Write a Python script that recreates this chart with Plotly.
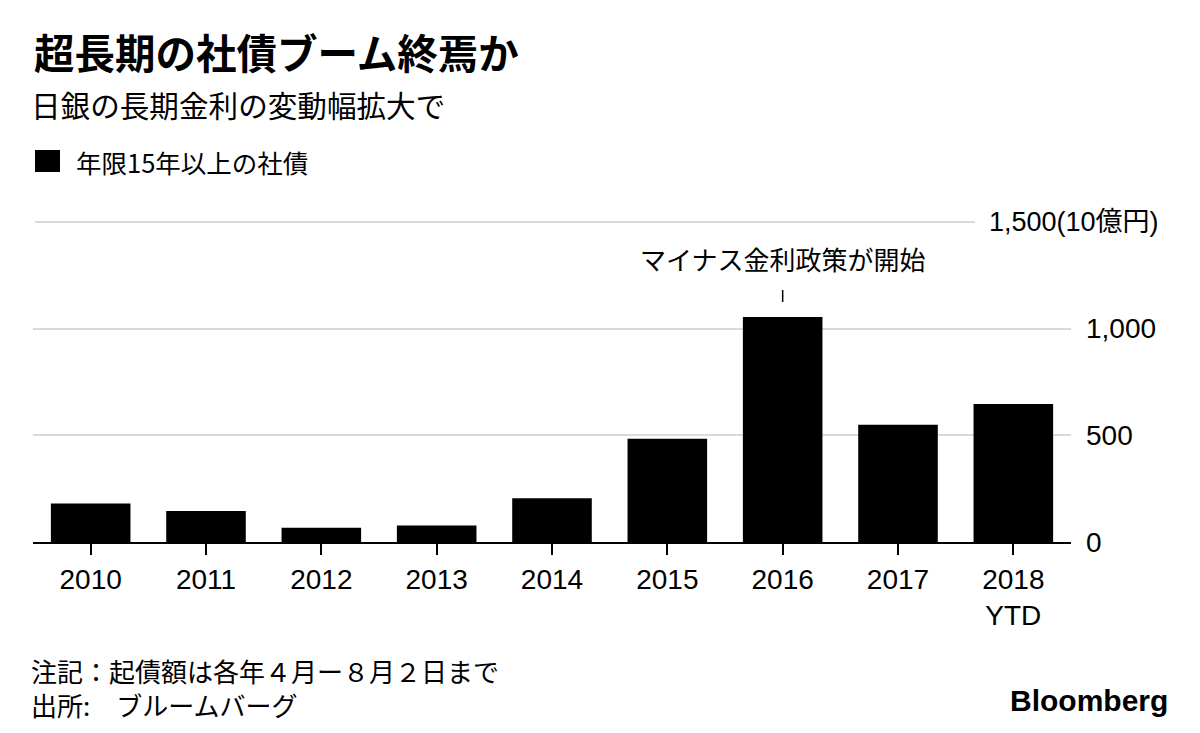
import plotly.graph_objects as go

years = ["2010", "2011", "2012", "2013", "2014", "2015", "2016", "2017", "2018"]
tick_labels = ["2010", "2011", "2012", "2013", "2014", "2015", "2016", "2017", "2018<br>YTD"]
values = [180, 145, 67, 77, 205, 484, 1055, 550, 647]
y_ticks = [0, 500, 1000]
event_year = "2016"

FONT = "Liberation Sans, Arial, Noto Sans CJK JP, sans-serif"
JP = "Noto Sans CJK JP, Liberation Sans, sans-serif"

# page body has an 8px margin: work in reference-pixel coords, shifted
OFF = 8
W, H = 1200 - OFF, 733 - OFF
L, R, T, B = 33 - OFF, 1071 - OFF, 222 - OFF, 542 - OFF
PW, PH = R - L, B - T


def px(x):
    return (x - OFF - L) / PW


def py(y):
    return (B - (y - OFF)) / PH


ev_idx = years.index(event_year)

fig = go.Figure()
fig.add_trace(go.Bar(
    x=years, y=values, marker=dict(color="#000000", line=dict(width=0)),
    name="年限15年以上の社債", showlegend=False,
))

fig.update_layout(
    width=W, height=H, autosize=False,
    paper_bgcolor="white", plot_bgcolor="white",
    margin=dict(l=L, r=W - R, t=T, b=H - B, pad=0),
    bargap=0.31,
    font=dict(family=FONT, color="#000000", size=28),
    title=dict(
        text="<b>超長期の社債ブーム終焉か</b>",
        font=dict(family=JP, size=40.5, color="#000000"),
        x=(35 - OFF - 1) / W, xanchor="left", xref="container",
        y=1 - (55 - OFF) / H, yanchor="middle", yref="container",
    ),
    xaxis=dict(
        type="category", automargin=False, range=[-0.5, len(years) - 0.5],
        tickmode="array", tickvals=years, ticktext=tick_labels,
        showline=True, linecolor="#000000", linewidth=2,
        ticks="outside", ticklen=11, tickwidth=2, tickcolor="#000000",
        showgrid=False, tickfont=dict(size=28, family=FONT),
    ),
    yaxis=dict(
        automargin=False,
        range=[0, 1500], side="right", tickmode="array", tickvals=y_ticks,
        tickformat=",d", showgrid=True, gridcolor="#dadada", gridwidth=2,
        zeroline=False, showline=False, ticks="", ticklabelstandoff=14,
        tickfont=dict(size=28, family=FONT),
    ),
    separators=".,",
)

# 1,500 gridline (shorter, with unit label)
fig.add_shape(type="line", xref="paper", yref="paper", x0=px(35), x1=px(975),
              y0=1, y1=1, line=dict(color="#dadada", width=2))
fig.add_annotation(text="1,500(10億円)", xref="paper", yref="paper",
                   x=px(987), y=1.0, xanchor="left", yanchor="middle",
                   showarrow=False, font=dict(size=27, family=FONT))

# subtitle
fig.add_annotation(text="日銀の長期金利の変動幅拡大で", xref="paper", yref="paper",
                   x=px(29), y=py(104), xanchor="left", yanchor="middle",
                   showarrow=False, font=dict(size=29.6, family=JP))

# legend
fig.add_shape(type="rect", xref="paper", yref="paper", x0=px(35), x1=px(60),
              y0=py(172), y1=py(150), fillcolor="#000000", line=dict(width=0))
fig.add_annotation(text="年限15年以上の社債", xref="paper", yref="paper",
                   x=px(74), y=py(161), xanchor="left", yanchor="middle",
                   showarrow=False, font=dict(size=25.5, family=JP))

# event annotation
fig.add_annotation(text="マイナス金利政策が開始", xref="x", yref="paper",
                   x=ev_idx, y=py(258), xanchor="center", yanchor="middle",
                   showarrow=False, font=dict(size=26, family=JP))
fig.add_shape(type="line", xref="x", yref="paper", x0=ev_idx, x1=ev_idx,
              y0=py(302), y1=py(290), line=dict(color="#000000", width=1.5))

# footer (note + source in one text block)
fig.add_annotation(text="注記：起債額は各年４月ー８月２日まで<br>出所:　ブルームバーグ",
                   xref="paper", yref="paper", align="left",
                   x=px(29), y=py(687), xanchor="left", yanchor="middle",
                   showarrow=False, font=dict(size=26, family=JP))
fig.add_annotation(text="<b>Bloomberg</b>", xref="paper", yref="paper",
                   x=px(1170), y=py(700), xanchor="right", yanchor="middle",
                   showarrow=False, font=dict(size=30, family=FONT))

fig.write_html("out.html")
